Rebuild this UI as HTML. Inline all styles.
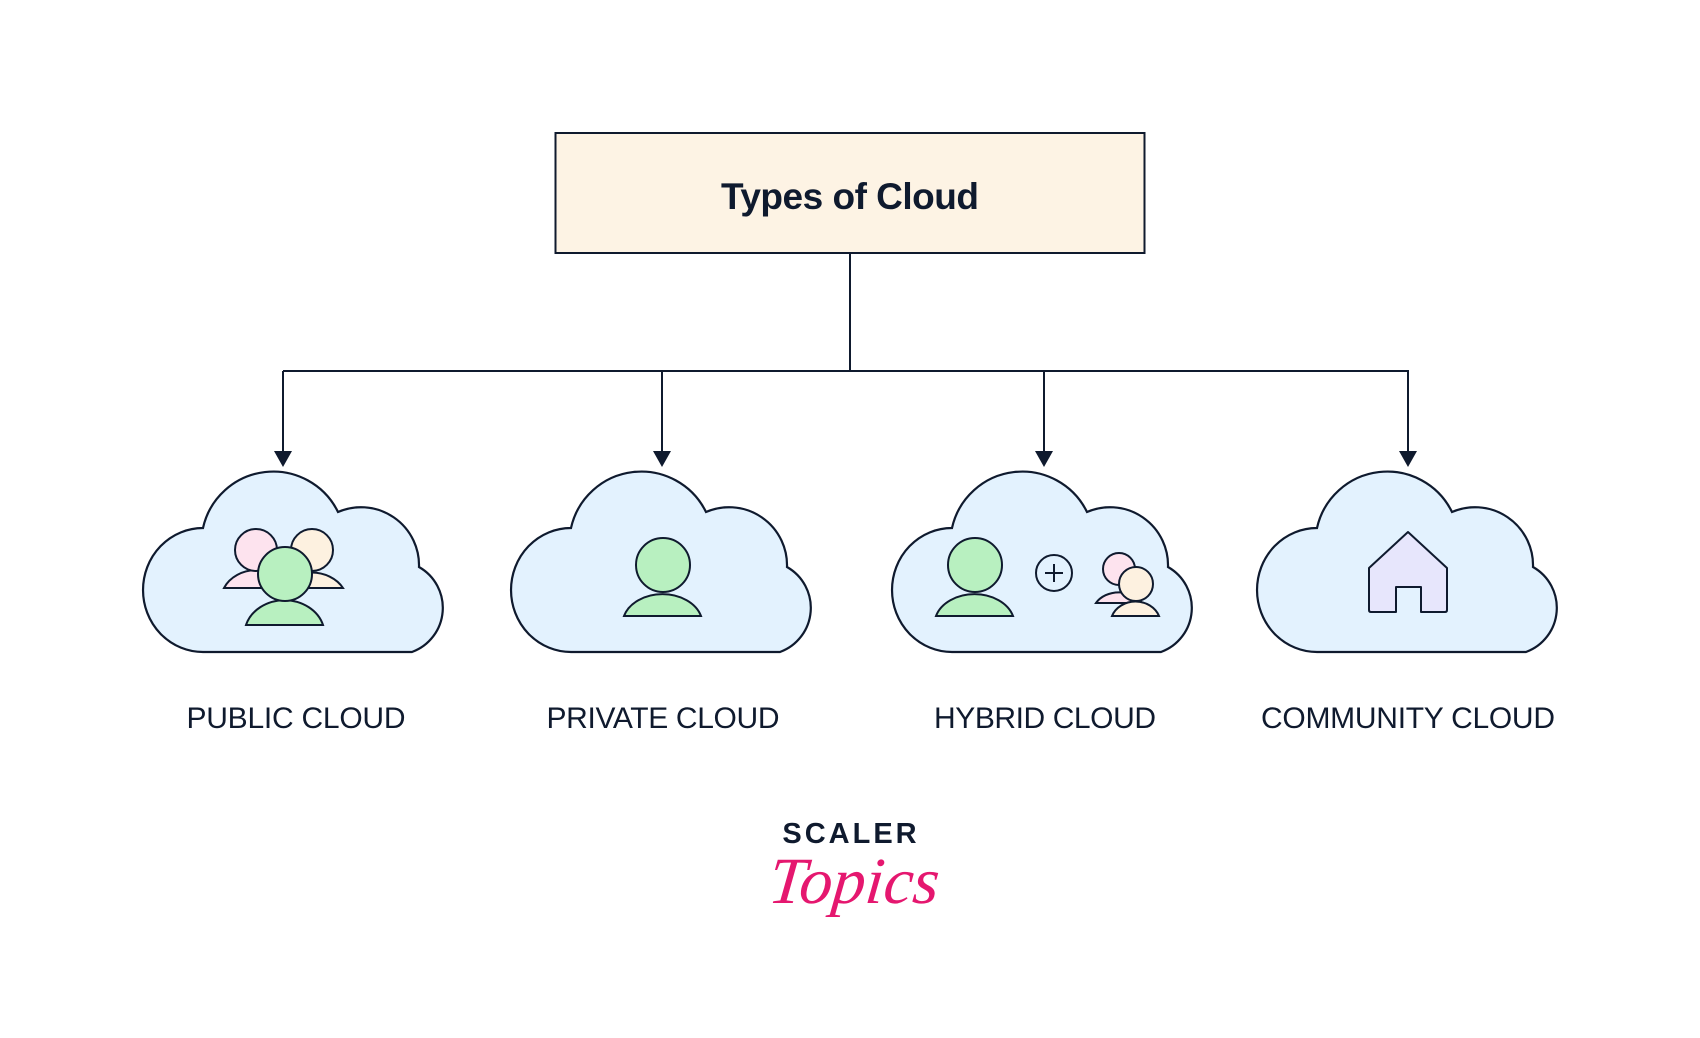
<!DOCTYPE html>
<html><head><meta charset="utf-8"><style>
html,body{margin:0;padding:0;background:#fff;}
svg{display:block;}
</style></head><body>
<svg width="1700" height="1038" viewBox="0 0 1700 1038" xmlns="http://www.w3.org/2000/svg">
<defs>
<path id="cloud" d="M59,182 A60 62 0 0 1 59,58 A72 72 0 0 1 194,42 A58 58 0 0 1 275,97 A47 47 0 0 1 268,182 Z" fill="#e3f2fe" stroke="#0f1a2e" stroke-width="2.2"/>
</defs>
<rect x="555.5" y="133" width="589" height="120" fill="#fdf3e4" stroke="#0f1a2e" stroke-width="2"/>
<text x="850" y="209" text-anchor="middle" font-family="Liberation Sans, sans-serif" font-size="37" font-weight="bold" fill="#0f1a2e" textLength="258">Types of Cloud</text>
<g stroke="#0f1a2e" stroke-width="2" fill="none">
<line x1="850" y1="253" x2="850" y2="371"/>
<line x1="283" y1="371" x2="1409" y2="371"/>
<line x1="283" y1="371" x2="283" y2="452"/>
<line x1="662" y1="371" x2="662" y2="452"/>
<line x1="1044" y1="371" x2="1044" y2="452"/>
<line x1="1408" y1="371" x2="1408" y2="452"/>
</g>
<g fill="#0f1a2e">
<polygon points="274,451 292,451 283,467"/>
<polygon points="653,451 671,451 662,467"/>
<polygon points="1035,451 1053,451 1044,467"/>
<polygon points="1399,451 1417,451 1408,467"/>
</g>
<use href="#cloud" x="144" y="470"/>
<use href="#cloud" x="512" y="470"/>
<use href="#cloud" x="893" y="470"/>
<use href="#cloud" x="1258" y="470"/>
<g stroke="#0f1a2e" stroke-width="2">
<path d="M224,588 A36 30 0 0 1 290,588 Z" fill="#fde3ee"/>
<circle cx="256" cy="550" r="21" fill="#fde3ee"/>
<path d="M280,588 A36 30 0 0 1 343,588 Z" fill="#fdf1e0"/>
<circle cx="312" cy="550" r="21" fill="#fdf1e0"/>
<path d="M246,625 A40 34 0 0 1 323,625 Z" fill="#b8f0c0"/>
<circle cx="285" cy="574" r="27" fill="#b8f0c0"/>
<path d="M624,616 A40 30 0 0 1 701,616 Z" fill="#b8f0c0"/>
<circle cx="663" cy="565" r="27" fill="#b8f0c0"/>
<path d="M936,616 A40 30 0 0 1 1013,616 Z" fill="#b8f0c0"/>
<circle cx="975" cy="565" r="27" fill="#b8f0c0"/>
<circle cx="1054" cy="573" r="18" fill="none"/>
<path d="M1054,564 V582 M1045,573 H1063" fill="none"/>
<path d="M1096,603 A26 20 0 0 1 1142,603 Z" fill="#fde3ee"/>
<circle cx="1119" cy="569" r="16" fill="#fde3ee"/>
<path d="M1112,616 A25 22 0 0 1 1159,616 Z" fill="#fdf1e0"/>
<circle cx="1136" cy="584" r="17" fill="#fdf1e0"/>
<path d="M1408,532 L1447,568 V610 Q1447,612 1445,612 H1421 V587 H1396 V612 H1371 Q1369,612 1369,610 V568 Z" fill="#e7e6fc" stroke-linejoin="round"/>
</g>
<g font-family="Liberation Sans, sans-serif" font-size="30" fill="#0f1a2e" text-anchor="middle">
<text x="296" y="728" textLength="219">PUBLIC CLOUD</text>
<text x="663" y="728" textLength="233">PRIVATE CLOUD</text>
<text x="1045" y="728" textLength="222">HYBRID CLOUD</text>
<text x="1408" y="728" textLength="294">COMMUNITY CLOUD</text>
</g>
<text x="851" y="843" text-anchor="middle" font-family="Liberation Sans, sans-serif" font-size="29" font-weight="bold" letter-spacing="3" fill="#0f1a2e">SCALER</text>
<text x="852" y="903" text-anchor="middle" font-family="Liberation Serif, serif" font-style="italic" font-size="66" fill="#e5176f" transform="skewX(-6) translate(95,0)">Topics</text>
</svg>
</body></html>
